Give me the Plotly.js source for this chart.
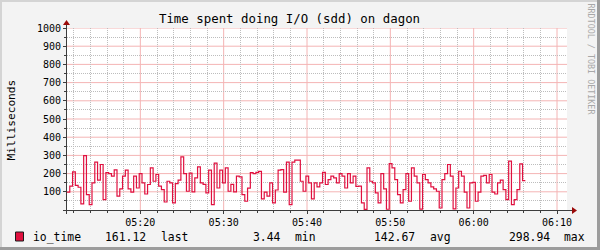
<!DOCTYPE html>
<html>
<head>
<meta charset="utf-8">
<script src="https://cdn.plot.ly/plotly-3.0.1.min.js"></script>
<style>
  html, body { margin: 0; padding: 0; background: #F3F3F3; }
  #chart { width: 600px; height: 250px; }
</style>
</head>
<body>
<div id="chart"></div>
<script>
// ---- data ----
const seriesName = 'io_time';
const startTimeUTC = Date.UTC(2024, 0, 1, 5, 11, 12);   // left edge of the graph
const stepSeconds = 20;
const windowSeconds = 3600;
const ioTime = [
  98,131,209,135,125,34,298.94,85,30,149,263,164,250,57,205,200,186,220,76,116,
  186,219,116,98,186,121,200,149,88,140,231,158,195,131,112,44,158,149,39,145,164,
  292,200,103,203,100,177,237,149,141,94,219,30,258,121,219,149,231,103,141,100,
  186,182,85,48,120,205,200,207,212,61,98,76,149,39,110,219,222,98,263,30,
  263,274,274,158,103,186,149,61,149,127,149,207,140,167,186,177,149,200,186,121,
  200,149,186,130,131,39,3.44,231,158,149,94,39,200,116,4,255,231,167,85,39,112,200,
  48,231,186,149,5,195,167,149,127,116,103,11,167,200,250,186,6,121,213,186,98,11,
  149,152,48,98,186,190,149,195,98,88,149,164,112,57,268,30,57,112,253,161.12
];
const yTickVals = [100,200,300,400,500,600,700,800,900,1000];
const yMinorVals = [50,150,250,350,450,550,650,750,850,950];
const legendStats = [161.12, 3.44, 142.67, 298.94];
const legendStatNames = ['last', 'min', 'avg', 'max'];
const titleText = 'Time spent doing I/O (sdd) on dagon';
const yTitleText = 'Milliseconds';
const watermarkText = 'RRDTOOL / TOBI OETIKER';

// ---- geometry helpers (pixel -> paper) ----
const PL = 67, PR = 567, PT = 28, PB = 210;
const px = x => (x - PL) / (PR - PL);
const py = y => (PB - y) / (PB - PT);

const times = ioTime.map((_, i) => startTimeUTC + i * stepSeconds * 1000);
const xs = times.concat([startTimeUTC + ioTime.length * stepSeconds * 1000]);
const ys = ioTime.concat([ioTime[ioTime.length - 1]]);

// 10-minute major and 2-minute minor grid positions inside the window
const MAJOR_MS = 600000, MINOR_MS = 120000;
const endUTC = startTimeUTC + windowSeconds * 1000;
const xMinorVals = [], xMajorVals = [];
for (let t = Math.ceil(startTimeUTC / MINOR_MS) * MINOR_MS; t <= endUTC; t += MINOR_MS) {
  if (t % MAJOR_MS === 0) xMajorVals.push(t); else xMinorVals.push(t);
}

const FONT = 'DejaVu Sans Mono';
const LINE_COLOR = '#E0103F';
const AXIS_COLOR = '#3C3C3C';
const ARROW_COLOR = '#9A0A0A';
const MAJOR_GRID = '#F4B4B4';
const MINOR_GRID = '#BDBDBD';

const trace = {
  x: xs, y: ys, type: 'scatter', mode: 'lines',
  line: { shape: 'hv', color: LINE_COLOR, width: 1.2 },
  hoverinfo: 'skip', showlegend: false
};

const shapes = [];
// major grid lines (drawn beneath the data)
xMajorVals.forEach(t => shapes.push({
  type: 'line', xref: 'x', yref: 'paper', x0: t, x1: t, y0: 0, y1: 1, layer: 'below',
  line: { color: MAJOR_GRID, width: 1 }
}));
yTickVals.forEach(v => shapes.push({
  type: 'line', xref: 'paper', yref: 'y', x0: 0, x1: 1, y0: v, y1: v, layer: 'below',
  line: { color: MAJOR_GRID, width: 1 }
}));
shapes.push(
  // frame of the image
  { type: 'rect', xref: 'paper', yref: 'paper', x0: px(0), x1: px(2), y0: py(250), y1: py(0), fillcolor: '#D4D4D4', line: { width: 0 } },
  { type: 'rect', xref: 'paper', yref: 'paper', x0: px(0), x1: px(600), y0: py(2), y1: py(0), fillcolor: '#D4D4D4', line: { width: 0 } },
  { type: 'rect', xref: 'paper', yref: 'paper', x0: px(597), x1: px(600), y0: py(250), y1: py(0), fillcolor: '#9C9C9C', line: { width: 0 } },
  { type: 'rect', xref: 'paper', yref: 'paper', x0: px(0), x1: px(600), y0: py(250), y1: py(247), fillcolor: '#9C9C9C', line: { width: 0 } },
  // axes
  { type: 'line', xref: 'paper', yref: 'paper', x0: px(63), x1: px(572), y0: py(210.5), y1: py(210.5), line: { color: AXIS_COLOR, width: 1 } },
  { type: 'line', xref: 'paper', yref: 'paper', x0: px(66.5), x1: px(66.5), y0: py(214), y1: py(24), line: { color: AXIS_COLOR, width: 1 } },
  // arrows
  { type: 'path', xref: 'paper', yref: 'paper', path: `M ${px(572)} ${py(207)} L ${px(577)} ${py(210.5)} L ${px(572)} ${py(214)} Z`, fillcolor: ARROW_COLOR, line: { width: 0 } },
  { type: 'path', xref: 'paper', yref: 'paper', path: `M ${px(63)} ${py(25)} L ${px(66.5)} ${py(20)} L ${px(70)} ${py(25)} Z`, fillcolor: ARROW_COLOR, line: { width: 0 } },
  // legend swatch
  { type: 'rect', xref: 'paper', yref: 'paper', x0: px(15.5), x1: px(23.5), y0: py(241), y1: py(232), fillcolor: LINE_COLOR, line: { color: '#1A1A1A', width: 1 } }
);

const legendTextFont = { family: FONT, size: 11.4, color: '#000' };
const legendY = py(236.5);
const statValueLeft = [102.5, 250.5, 372, 506.7];
const statNameLeft = [158.7, 292.9, 427.5, 562.1];
const annotations = [
  { text: seriesName, xref: 'paper', yref: 'paper', x: px(30.6), y: legendY, xanchor: 'left', yanchor: 'middle', showarrow: false, font: legendTextFont }
];
legendStats.forEach((v, i) => {
  annotations.push({ text: v.toFixed(2), xref: 'paper', yref: 'paper', x: px(statValueLeft[i]), y: legendY, xanchor: 'left', yanchor: 'middle', showarrow: false, font: legendTextFont });
  annotations.push({ text: legendStatNames[i], xref: 'paper', yref: 'paper', x: px(statNameLeft[i]), y: legendY, xanchor: 'left', yanchor: 'middle', showarrow: false, font: legendTextFont });
});
annotations.push({ text: yTitleText, xref: 'paper', yref: 'paper', x: px(10.5), y: py(120), xanchor: 'center', yanchor: 'middle', textangle: -90, showarrow: false, font: { family: FONT, size: 11.2, color: '#000' } });
annotations.push({ text: watermarkText, xref: 'paper', yref: 'paper', x: px(591), y: py(59.5), xanchor: 'center', yanchor: 'middle', textangle: 90, showarrow: false, font: { family: FONT, size: 8.4, color: '#A8A8A8' } });

const layout = {
  width: 600, height: 250,
  margin: { l: PL, r: 600 - PR, t: PT, b: 250 - PB, pad: 0, autoexpand: false },
  paper_bgcolor: '#F3F3F3', plot_bgcolor: '#FFFFFF',
  title: {
    text: titleText, xref: 'container', yref: 'container', x: 289.5 / 600, y: 1 - 19 / 250,
    xanchor: 'center', yanchor: 'middle', font: { family: FONT, size: 12.4, color: '#000' }
  },
  xaxis: {
    type: 'date', range: [startTimeUTC, endUTC],
    tick0: Date.UTC(2024, 0, 1, 5, 0, 0), dtick: MAJOR_MS, tickformat: '%H:%M',
    showgrid: false,
    minor: { tickmode: 'array', tickvals: xMinorVals, showgrid: true, gridcolor: MINOR_GRID, griddash: '1px,1px', ticks: 'outside', ticklen: 2, tickcolor: AXIS_COLOR },
    ticks: 'outside', ticklen: 3, tickcolor: AXIS_COLOR, tickwidth: 1,
    showline: false, zeroline: false, fixedrange: true,
    tickfont: { family: FONT, size: 10, color: '#000' }
  },
  yaxis: {
    range: [0, 1000], tickmode: 'array', tickvals: yTickVals, ticktext: yTickVals.map(String),
    showgrid: false,
    minor: { tickmode: 'array', tickvals: yMinorVals, showgrid: true, gridcolor: MINOR_GRID, griddash: '1px,1px', ticks: 'outside', ticklen: 2, tickcolor: AXIS_COLOR },
    ticks: 'outside', ticklen: 3, tickcolor: AXIS_COLOR, tickwidth: 1,
    showline: false, zeroline: false, fixedrange: true,
    tickfont: { family: FONT, size: 10, color: '#000' }
  },
  shapes: shapes,
  annotations: annotations,
  showlegend: false
};

Plotly.newPlot('chart', [trace], layout, { staticPlot: true, displayModeBar: false });
</script>
</body>
</html>
